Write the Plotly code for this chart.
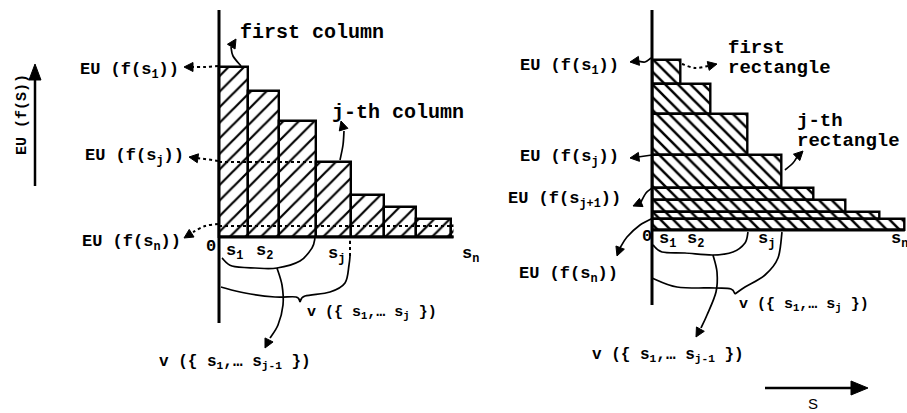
import math
import plotly.graph_objects as go

W, H = 907, 413

# ---- data (arbitrary units) ----
s_edges = [0, 29, 60, 97, 132, 165, 197, 232, 258]      # cumulative state boundaries
eu_values = [170, 146, 116, 75, 42, 30, 18, 11]          # EU(f(s_i)), decreasing
j_index = 3                                               # the j-th column (0-based)

MONO = "Liberation Mono"
BLACK = "#000000"

n = len(eu_values)
col_centers = [(s_edges[i] + s_edges[i + 1]) / 2 for i in range(n)]
col_widths = [s_edges[i + 1] - s_edges[i] for i in range(n)]
eu_next = eu_values[1:] + [0]
rect_centers = [(eu_values[i] + eu_next[i]) / 2 for i in range(n)]
rect_heights = [eu_values[i] - eu_next[i] for i in range(n)]
rect_lengths = s_edges[1:]

fig = go.Figure()

# left panel: columns
fig.add_trace(go.Bar(
    x=col_centers, y=eu_values, width=col_widths, base=0,
    marker=dict(color="white", line=dict(color=BLACK, width=2.4),
                pattern=dict(shape="/", fgcolor=BLACK, fgopacity=1, bgcolor="white",
                             size=11, solidity=0.2, fillmode="replace")),
    xaxis="x", yaxis="y", showlegend=False, hoverinfo="skip"))

# right panel: horizontal rectangles
fig.add_trace(go.Bar(
    y=rect_centers, x=rect_lengths, width=rect_heights, base=0, orientation="h",
    marker=dict(color="white", line=dict(color=BLACK, width=2.4),
                pattern=dict(shape="\\", fgcolor=BLACK, fgopacity=1, bgcolor="white",
                             size=9, solidity=0.28, fillmode="replace")),
    xaxis="x2", yaxis="y2", showlegend=False, hoverinfo="skip"))

# dotted levels on left panel
fig.add_trace(go.Scatter(x=[0, s_edges[j_index]], y=[eu_values[j_index]] * 2, mode="lines",
                         line=dict(color=BLACK, width=2, dash="dot"), xaxis="x", yaxis="y",
                         showlegend=False, hoverinfo="skip"))
fig.add_trace(go.Scatter(x=[0, s_edges[n - 1]], y=[eu_values[n - 1]] * 2, mode="lines",
                         line=dict(color=BLACK, width=2, dash="dot"), xaxis="x", yaxis="y",
                         showlegend=False, hoverinfo="skip"))

shapes = []
# axes lines
shapes.append(dict(type="line", xref="x", yref="y", x0=0, x1=0, y0=-86, y1=227,
                   line=dict(color=BLACK, width=3)))
shapes.append(dict(type="line", xref="x", yref="y", x0=0, x1=s_edges[-1], y0=0, y1=0,
                   line=dict(color=BLACK, width=3)))
shapes.append(dict(type="line", xref="x2", yref="y2", x0=0, x1=0, y0=-75, y1=220,
                   line=dict(color=BLACK, width=3)))
shapes.append(dict(type="line", xref="x2", yref="y2", x0=0, x1=s_edges[-1], y0=0, y1=0,
                   line=dict(color=BLACK, width=3)))

annotations = []


def to_paper(x, y):
    return x / W, 1 - y / H


def smooth(pts):
    P = [to_paper(*p) for p in pts]
    d = f"M {P[0][0]:.5f},{P[0][1]:.5f}"
    for i in range(len(P) - 1):
        p0 = P[i - 1] if i > 0 else P[i]
        p1, p2 = P[i], P[i + 1]
        p3 = P[i + 2] if i + 2 < len(P) else P[i + 1]
        c1 = (p1[0] + (p2[0] - p0[0]) / 6, p1[1] + (p2[1] - p0[1]) / 6)
        c2 = (p2[0] - (p3[0] - p1[0]) / 6, p2[1] - (p3[1] - p1[1]) / 6)
        d += f" C {c1[0]:.5f},{c1[1]:.5f} {c2[0]:.5f},{c2[1]:.5f} {p2[0]:.5f},{p2[1]:.5f}"
    return d


def curve(pts, width=1.7, dash="solid"):
    shapes.append(dict(type="path", xref="paper", yref="paper", path=smooth(pts),
                       line=dict(color=BLACK, width=width, dash=dash)))


def head(hx, hy, fx, fy, length=9, half=4.5):
    dx, dy = hx - fx, hy - fy
    d = math.hypot(dx, dy) or 1
    ux, uy = dx / d, dy / d
    bx, by = hx - ux * length, hy - uy * length
    nx, ny = -uy, ux
    pts = [(hx, hy), (bx + nx * half, by + ny * half), (bx - nx * half, by - ny * half)]
    P = [to_paper(*p) for p in pts]
    path = "M " + " L ".join(f"{p[0]:.5f},{p[1]:.5f}" for p in P) + " Z"
    shapes.append(dict(type="path", xref="paper", yref="paper", path=path,
                       fillcolor=BLACK, line=dict(color=BLACK, width=1)))


def label(text, x, y, size=17, anchor="left", font=MONO, weight="bold", angle=0):
    px, py = to_paper(x, y)
    annotations.append(dict(x=px, y=py, xref="paper", yref="paper", text=text, showarrow=False,
                            xanchor=anchor, yanchor="middle", textangle=angle,
                            font=dict(family=font, size=size, color=BLACK, weight=weight)))


# ---- left panel decorations ----
curve([(241, 66), (233, 56), (231, 47)])
head(236, 39, 231, 47)
curve([(218, 66), (205, 67), (192, 67)], dash="dot", width=2)
head(184, 67, 192, 67)
curve([(218, 161), (205, 159), (196, 158)], dash="dot", width=2)
head(189, 157, 196, 158)
curve([(218, 224), (205, 226), (193, 232)], dash="dot", width=2)
head(184, 238, 192, 233)
curve([(340, 160), (343, 145), (344, 131)])
head(341, 121, 344, 131)
curve([(222, 258), (232, 266), (255, 268), (277, 268), (300, 261), (312, 248), (315, 238)])
curve([(277, 268), (282, 285), (283, 305), (278, 325), (270, 338)])
head(265, 348, 270, 338)
curve([(221, 287), (245, 293), (275, 297), (296, 297), (300, 302)])
curve([(300, 302), (305, 296), (330, 292), (345, 283), (349, 265), (350, 256)])
curve([(350, 256), (350, 240)], dash="dot", width=2)

label("first column", 238, 32, size=20)
label("EU (f(s<sub>1</sub>))", 78, 71)
label("EU (f(s<sub>j</sub>))", 83, 157)
label("EU (f(s<sub>n</sub>))", 80, 243)
label("j-th column", 330, 113, size=20)
label("0", 204, 246)
label("s<sub>1</sub>", 224, 252)
label("s<sub>2</sub>", 254, 252)
label("s<sub>j</sub>", 326, 255)
label("s<sub>n</sub>", 460, 255)
label("v ({ s<sub>1</sub>,… s<sub>j</sub> })", 305, 313, size=15)
label("v ({ s<sub>1</sub>,… s<sub>j-1</sub> })", 157, 362, size=16)
label("EU (f(S))", 22, 115, size=15, anchor="center", angle=-90)
shapes.append(dict(type="line", xref="paper", yref="paper", x0=35 / W, x1=35 / W,
                   y0=1 - 186 / H, y1=1 - 78 / H, line=dict(color=BLACK, width=2.5)))
head(35, 64, 35, 80, length=16, half=6)

# ---- right panel decorations ----
curve([(651, 58), (645, 62), (638, 61)])
head(630, 62, 638, 61)
curve([(682, 64), (695, 68), (708, 66)], dash="dot", width=2)
head(717, 64, 708, 66)
curve([(652, 155), (638, 157)])
head(630, 158, 638, 157)
curve([(652, 188), (646, 193), (641, 202)])
head(633, 206, 640, 203)
curve([(653, 218), (640, 225), (627, 237), (620, 248)])
head(617, 256, 620, 248)
curve([(785, 170), (793, 163), (797, 157)])
head(803, 151, 797, 157)
curve([(653, 245), (662, 252), (685, 253), (713, 255), (733, 252), (745, 243), (748, 232)])
curve([(713, 255), (717, 272), (716, 292), (707, 315), (701, 328)])
head(696, 337, 701, 328)
curve([(652, 278), (677, 287), (715, 288), (731, 289), (735, 294)])
curve([(735, 294), (745, 287), (765, 275), (778, 258), (782, 232)])

label("EU (f(s<sub>1</sub>))", 518, 67)
label("first", 726, 48, size=19)
label("rectangle", 726, 68, size=19)
label("EU (f(s<sub>j</sub>))", 518, 158)
label("j-th", 795, 121, size=19)
label("rectangle", 795, 141, size=19)
label("EU (f(s<sub>j+1</sub>))", 506, 200)
label("EU (f(s<sub>n</sub>))", 517, 275)
label("0", 640, 236)
label("s<sub>1</sub>", 657, 240)
label("s<sub>2</sub>", 685, 240)
label("s<sub>j</sub>", 756, 240)
label("s<sub>n</sub>", 889, 240)
label("v ({ s<sub>1</sub>,… s<sub>j</sub> })", 737, 305, size=15)
label("v ({ s<sub>1</sub>,… s<sub>j-1</sub> })", 590, 355, size=16)
label("S", 813, 403, size=15, anchor="center", font="Liberation Sans", weight="normal")
shapes.append(dict(type="line", xref="paper", yref="paper", x0=765 / W, x1=852 / W,
                   y0=1 - 388 / H, y1=1 - 388 / H, line=dict(color=BLACK, width=2.5)))
head(868, 388, 852, 388, length=17, half=7)

k = 0.98
fig.update_layout(
    width=W, height=H, margin=dict(l=0, r=0, t=0, b=0),
    paper_bgcolor="white", plot_bgcolor="white",
    xaxis=dict(domain=[0, 0.5], range=[-219, 234.5], visible=False, fixedrange=True),
    yaxis=dict(domain=[0, 1], range=[-176, 237], visible=False, fixedrange=True, anchor="x"),
    xaxis2=dict(domain=[0.5, 1], range=[-198.5 / k, 255 / k], visible=False, fixedrange=True, anchor="y2"),
    yaxis2=dict(domain=[0, 1], range=[-183, 230], visible=False, fixedrange=True, anchor="x2"),
    shapes=shapes, annotations=annotations, bargap=0, barmode="overlay",
)

fig.write_html("out.html", config={"displayModeBar": False},
               post_script="document.body.style.margin='0px';document.body.style.overflow='hidden';")
